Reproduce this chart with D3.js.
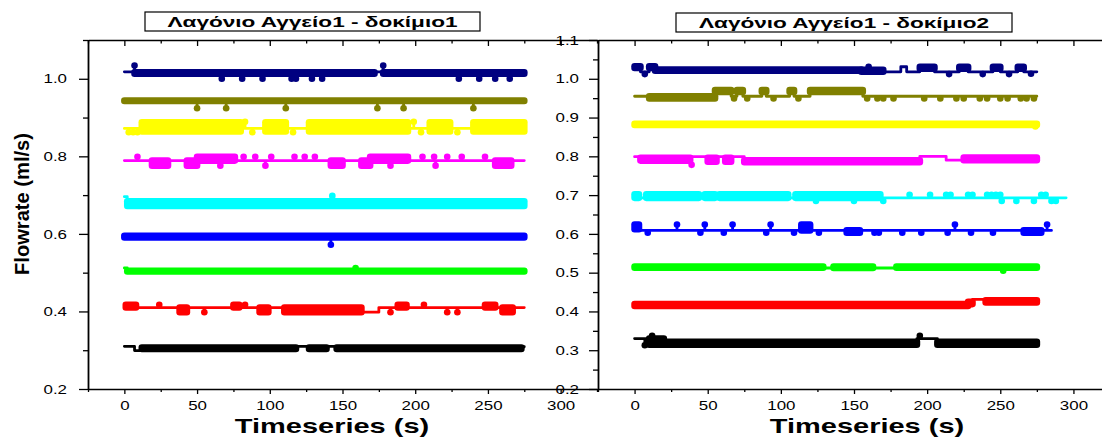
<!DOCTYPE html>
<html>
<head>
<meta charset="utf-8">
<script src="https://cdn.jsdelivr.net/npm/d3@7"></script>
<style>
  html, body { margin: 0; padding: 0; background: #fff; }
  svg { display: block; }
</style>
</head>
<body>
<svg id="chart" width="1102" height="439"></svg>
<script>
// ---------- axis ticks and labels ----------
const timeTicks = [0, 50, 100, 150, 200, 250, 300];
const timeMinorTicks = [-25, 25, 75, 125, 175, 225, 275, 325];
const flowTicks1 = [0.2, 0.4, 0.6, 0.8, 1.0];
const flowMinor1 = [0.3, 0.5, 0.7, 0.9, 1.1];
const flowTicks2 = [0.2, 0.3, 0.4, 0.5, 0.6, 0.7, 0.8, 0.9, 1.0, 1.1];
const flowMinor2 = [0.25, 0.35, 0.45, 0.55, 0.65, 0.75, 0.85, 0.95, 1.05];
const panelTitles = ["Λαγόνιο Αγγείο1 - δοκίμιο1", "Λαγόνιο Αγγείο1 - δοκίμιο2"];
const xTitle = "Timeseries (s)";
const yTitle = "Flowrate (ml/s)";
const seriesColors = ["#000080", "#808000", "#ffff00", "#ff00ff", "#00ffff", "#0000ff", "#00ff00", "#ff0000", "#000000"];

// ---------- series: runs [t0, t1, v] (single level) or [t0, t1, lo, hi] (jittering band), plus isolated samples [t, v] ----------
// δοκίμιο1
const trial1Navy = [[0, 7, 1.018], [7, 172, 1.013, 1.017], [172, 178, 1.018], [178, 275, 1.013, 1.017]];
const trial1NavyDots = [[7, 1.034], [178, 1.034], [67, 1.0], [81, 1.0], [95, 1.0], [115, 1.0], [118, 1.0], [129, 1.0], [136, 1.0], [230, 1.0], [244, 1.0], [255, 1.0], [265, 1.0]];
const trial1Olive = [[0, 275, 0.943, 0.944]];
const trial1OliveDots = [[50, 0.924], [70, 0.924], [111, 0.924], [174, 0.924], [192, 0.924], [240, 0.924]];
const trial1Yellow = [[0, 12, 0.872], [12, 80, 0.864, 0.888], [80, 97, 0.872], [97, 111, 0.864, 0.888], [111, 127, 0.872], [127, 195, 0.864, 0.888], [195, 210, 0.872], [210, 224, 0.864, 0.888], [224, 240, 0.872], [240, 275, 0.864, 0.888]];
const trial1YellowDots = [[3, 0.862], [6, 0.862], [9, 0.862], [83, 0.889], [88, 0.862], [116, 0.862], [199, 0.889], [204, 0.862], [229, 0.862]];
const trial1Magenta = [[0, 19, 0.789], [19, 30, 0.776, 0.789], [30, 43, 0.789], [43, 50, 0.776, 0.789], [50, 76, 0.789, 0.799], [76, 142, 0.789], [142, 150, 0.776, 0.789], [150, 163, 0.789], [163, 169, 0.776, 0.789], [169, 195, 0.789, 0.799], [195, 255, 0.789], [255, 266, 0.776, 0.789], [266, 275, 0.789]];
const trial1MagentaDots = [[9, 0.799], [82, 0.799], [90, 0.799], [101, 0.799], [117, 0.799], [124, 0.799], [131, 0.799], [205, 0.799], [213, 0.799], [222, 0.799], [232, 0.799], [248, 0.799], [66, 0.776], [97, 0.776], [183, 0.776], [214, 0.776]];
const trial1Cyan = [[0, 2, 0.696], [2, 275, 0.672, 0.684]];
const trial1CyanDots = [[143, 0.698]];
const trial1Blue = [[0, 275, 0.591, 0.595]];
const trial1BlueDots = [[142, 0.572]];
const trial1Green = [[0, 2, 0.512], [2, 275, 0.503, 0.505]];
const trial1GreenDots = [[159, 0.512]];
const trial1Red = [[0, 1, 0.41], [1, 8, 0.41, 0.417], [8, 38, 0.41], [38, 43, 0.398, 0.41], [43, 75, 0.41], [75, 79, 0.41, 0.417], [79, 93, 0.41], [93, 99, 0.398, 0.41], [99, 110, 0.41], [110, 163, 0.398, 0.41], [163, 175, 0.398], [175, 188, 0.41], [188, 194, 0.41, 0.417], [194, 248, 0.41], [248, 255, 0.41, 0.417], [255, 260, 0.41], [260, 267, 0.398, 0.41], [267, 275, 0.41]];
const trial1RedDots = [[24, 0.417], [83, 0.417], [206, 0.417], [55, 0.398], [183, 0.398], [222, 0.398], [229, 0.398]];
const trial1Black = [[0, 7, 0.31], [7, 12, 0.299], [12, 118, 0.303, 0.307], [118, 127, 0.31], [127, 139, 0.303, 0.307], [139, 146, 0.31], [146, 273, 0.303, 0.307], [273, 275, 0.309]];
const trial1BlackDots = [];

// δοκίμιο2
const trial2Navy = [[0, 4, 1.028, 1.032], [4, 10, 1.018], [10, 14, 1.028, 1.032], [14, 155, 1.021, 1.024], [155, 170, 1.018, 1.023], [170, 182, 1.018], [182, 186, 1.031], [186, 195, 1.018], [195, 205, 1.026, 1.031], [205, 222, 1.018], [222, 228, 1.026, 1.031], [228, 245, 1.018], [245, 250, 1.026, 1.031], [250, 262, 1.018], [262, 266, 1.026, 1.031], [266, 275, 1.018]];
const trial2NavyDots = [[7, 1.012], [160, 1.031], [215, 1.012], [238, 1.012], [256, 1.012], [271, 1.013]];
const trial2Olive = [[0, 10, 0.955], [10, 55, 0.949, 0.955], [55, 66, 0.966, 0.971], [66, 70, 0.955], [70, 74, 0.966, 0.971], [74, 87, 0.955], [87, 90, 0.966, 0.971], [90, 106, 0.955], [106, 109, 0.966, 0.971], [109, 120, 0.955], [120, 156, 0.966, 0.971], [156, 275, 0.955]];
const trial2OliveDots = [[68, 0.949], [77, 0.949], [95, 0.949], [112, 0.949], [159, 0.949], [166, 0.949], [170, 0.949], [177, 0.949], [198, 0.949], [209, 0.949], [220, 0.949], [225, 0.949], [236, 0.949], [241, 0.949], [250, 0.949], [255, 0.949], [264, 0.949], [268, 0.949], [273, 0.949]];
const trial2Yellow = [[0, 275, 0.881, 0.884]];
const trial2YellowDots = [[274, 0.877]];
const trial2Magenta = [[0, 4, 0.799], [4, 38, 0.789, 0.796], [38, 50, 0.799], [50, 56, 0.786, 0.796], [56, 62, 0.799], [62, 66, 0.786, 0.796], [66, 75, 0.799], [75, 195, 0.785, 0.79], [195, 213, 0.8], [213, 225, 0.79], [225, 275, 0.79, 0.797]];
const trial2MagentaDots = [[39, 0.778]];
const trial2Cyan = [[0, 3, 0.693, 0.702], [3, 8, 0.693], [8, 44, 0.693, 0.702], [44, 48, 0.693], [48, 55, 0.693, 0.702], [55, 58, 0.693], [58, 105, 0.693, 0.702], [105, 110, 0.693], [110, 168, 0.693, 0.702], [168, 295, 0.693]];
const trial2CyanDots = [[188, 0.701], [202, 0.701], [213, 0.701], [216, 0.701], [228, 0.701], [231, 0.701], [241, 0.701], [244, 0.701], [247, 0.701], [250, 0.701], [278, 0.701], [281, 0.701], [124, 0.685], [150, 0.685], [170, 0.685], [251, 0.685], [261, 0.685], [273, 0.685], [285, 0.685], [288, 0.685]];
const trial2Blue = [[0, 3, 0.612, 0.624], [3, 114, 0.609], [114, 120, 0.609, 0.624], [120, 145, 0.609], [145, 154, 0.603, 0.609], [154, 266, 0.609], [266, 278, 0.603, 0.609], [278, 285, 0.609]];
const trial2BlueDots = [[29, 0.624], [48, 0.624], [67, 0.624], [93, 0.624], [219, 0.624], [282, 0.624], [9, 0.603], [45, 0.603], [61, 0.603], [90, 0.603], [109, 0.603], [126, 0.603], [164, 0.603], [167, 0.603], [183, 0.603], [196, 0.603], [214, 0.603], [230, 0.603], [245, 0.603]];
const trial2Green = [[0, 129, 0.513, 0.516], [129, 136, 0.512], [136, 163, 0.512, 0.516], [163, 179, 0.512], [179, 275, 0.513, 0.516]];
const trial2GreenDots = [[252, 0.505]];
const trial2Red = [[0, 228, 0.414, 0.419], [228, 231, 0.419, 0.425], [231, 240, 0.431], [240, 275, 0.423, 0.429]];
const trial2RedDots = [];
const trial2Black = [[0, 10, 0.33], [10, 20, 0.314, 0.33], [20, 193, 0.314, 0.322], [193, 207, 0.33], [207, 275, 0.314, 0.322]];
const trial2BlackDots = [[7, 0.313], [12, 0.337], [195, 0.337]];

// ---------- layout ----------
const FONT = "'Liberation Sans', Arial, Helvetica, sans-serif";
const TEXT_SX = 1.3;      // horizontal glyph stretch of the exported figure
const R = 3.3;            // symbol radius
const LINE_W = 2.8;       // connecting line width
const yTop = 40, yBottom = 389;

const svg = d3.select("#chart");

function stretchText(sel, factor) {
  sel.each(function () {
    const w = this.getComputedTextLength();
    d3.select(this).attr("textLength", w * factor).attr("lengthAdjust", "spacingAndGlyphs");
  });
}

const trial1 = [
  [trial1Navy, trial1NavyDots], [trial1Olive, trial1OliveDots], [trial1Yellow, trial1YellowDots],
  [trial1Magenta, trial1MagentaDots], [trial1Cyan, trial1CyanDots], [trial1Blue, trial1BlueDots],
  [trial1Green, trial1GreenDots], [trial1Red, trial1RedDots], [trial1Black, trial1BlackDots]
];
const trial2 = [
  [trial2Navy, trial2NavyDots], [trial2Olive, trial2OliveDots], [trial2Yellow, trial2YellowDots],
  [trial2Magenta, trial2MagentaDots], [trial2Cyan, trial2CyanDots], [trial2Blue, trial2BlueDots],
  [trial2Green, trial2GreenDots], [trial2Red, trial2RedDots], [trial2Black, trial2BlackDots]
];

const panels = [
  { x0: 88, x1: 597, series: trial1, yTicks: flowTicks1, yMinor: flowMinor1, title: panelTitles[0],
    box: [145, 12, 335, 19], labelPad: 12, xTitleX: 332 },
  { x0: 598, x1: 1110, series: trial2, yTicks: flowTicks2, yMinor: flowMinor2, title: panelTitles[1],
    box: [676, 13, 336, 19], labelPad: 10, xTitleX: 867 }
];

function runLevel(s) { return s.length === 3 ? s[2] : (s[2] + s[3]) / 2; }

function drawSeries(g, x, y, runs, dots, color) {
  const pts = [];
  runs.forEach(s => { pts.push([s[0], runLevel(s)], [s[1], runLevel(s)]); });
  g.append("path")
    .attr("d", d3.line().x(d => x(d[0])).y(d => y(d[1]))(pts))
    .attr("fill", "none").attr("stroke", color).attr("stroke-width", LINE_W)
    .attr("stroke-linejoin", "round").attr("stroke-linecap", "round");

  g.selectAll(null).data(runs.filter(s => s.length === 4)).join("rect")
    .attr("x", s => x(s[0]) - R)
    .attr("width", s => x(s[1]) - x(s[0]) + 2 * R)
    .attr("y", s => y(s[3]) - R)
    .attr("height", s => y(s[2]) - y(s[3]) + 2 * R)
    .attr("rx", R).attr("fill", color);

  const levelAt = t => runLevel(runs.find(s => t >= s[0] && t <= s[1]) || runs[runs.length - 1]);
  g.selectAll(null).data(dots).join("line")
    .attr("x1", d => x(d[0])).attr("x2", d => x(d[0]))
    .attr("y1", d => y(d[1])).attr("y2", d => y(levelAt(d[0])))
    .attr("stroke", color).attr("stroke-width", LINE_W);
  g.selectAll(null).data(dots).join("circle")
    .attr("cx", d => x(d[0])).attr("cy", d => y(d[1])).attr("r", R).attr("fill", color);
}

function styleAxis(g, domainW) {
  g.select(".domain").attr("stroke", "#000").attr("stroke-width", domainW);
  g.selectAll(".tick line").attr("stroke", "#000").attr("stroke-width", 1.3);
  g.selectAll(".tick text").attr("fill", "#000").attr("font-family", FONT).attr("font-size", 13);
}

panels.forEach((p, pi) => {
  const x = d3.scaleLinear().domain([-25, 325]).range([p.x0, p.x1]);
  const y = d3.scaleLinear().domain([0.2, 1.1]).range([yBottom, yTop]);
  const g = svg.append("g");

  // data
  const dataG = g.append("g");
  p.series.forEach((s, i) => drawSeries(dataG.append("g"), x, y, s[0], s[1], seriesColors[i]));

  // top axis (ticks inside)
  const top = g.append("g").attr("transform", `translate(0,${yTop})`);
  top.call(d3.axisBottom(x).tickValues(timeTicks).tickSizeInner(6).tickSizeOuter(0).tickFormat(""));
  top.append("g").call(d3.axisBottom(x).tickValues(timeMinorTicks).tickSizeInner(3.5).tickSizeOuter(0).tickFormat(""))
    .select(".domain").remove();
  styleAxis(top, 1.6);

  // bottom axis (ticks outside)
  const bottom = g.append("g").attr("transform", `translate(0,${yBottom})`);
  bottom.call(d3.axisBottom(x).tickValues(timeTicks).tickSizeInner(5).tickSizeOuter(0).tickPadding(7).tickFormat(d3.format("d")));
  bottom.append("g").call(d3.axisBottom(x).tickValues(timeMinorTicks).tickSizeInner(3).tickSizeOuter(0).tickFormat(""))
    .select(".domain").remove();
  styleAxis(bottom, 1.6);
  stretchText(bottom.selectAll(".tick text"), TEXT_SX);

  // left axis (ticks outside)
  const left = g.append("g").attr("transform", `translate(${p.x0},0)`);
  left.call(d3.axisLeft(y).tickValues(p.yTicks).tickSizeInner(9).tickSizeOuter(0).tickPadding(p.labelPad).tickFormat(d3.format(".1f")));
  left.append("g").call(d3.axisLeft(y).tickValues(p.yMinor).tickSizeInner(5).tickSizeOuter(0).tickFormat(""))
    .select(".domain").remove();
  styleAxis(left, 1.8);
  stretchText(left.selectAll(".tick text"), TEXT_SX);

  // right axis of the second graph (ticks inside, frame edge beyond the page)
  if (pi === 1) {
    const right = g.append("g").attr("transform", `translate(${p.x1},0)`);
    right.call(d3.axisLeft(y).tickValues(p.yTicks).tickSizeInner(-11).tickSizeOuter(0).tickFormat(""));
    styleAxis(right, 1.6);
  }

  // title box
  g.append("rect").attr("x", p.box[0]).attr("y", p.box[1]).attr("width", p.box[2]).attr("height", p.box[3])
    .attr("fill", "#fff").attr("stroke", "#000").attr("stroke-width", 1.2);
  const t = g.append("text").attr("x", p.box[0] + p.box[2] / 2).attr("y", p.box[1] + 14.5)
    .attr("text-anchor", "middle").attr("font-family", FONT).attr("font-weight", "bold")
    .attr("font-size", 14).text(p.title);
  t.attr("textLength", 290).attr("lengthAdjust", "spacingAndGlyphs");

  // x title
  const xt = g.append("text").attr("x", p.xTitleX).attr("y", 433).attr("text-anchor", "middle")
    .attr("font-family", FONT).attr("font-weight", "bold").attr("font-size", 21).text(xTitle);
  stretchText(xt, 1.38);
});

// y title
svg.append("text")
  .attr("transform", "translate(29,204) rotate(-90)")
  .attr("text-anchor", "middle").attr("font-family", FONT).attr("font-weight", "bold")
  .attr("font-size", 20).attr("textLength", 142).attr("lengthAdjust", "spacingAndGlyphs")
  .text(yTitle);
</script>
</body>
</html>
